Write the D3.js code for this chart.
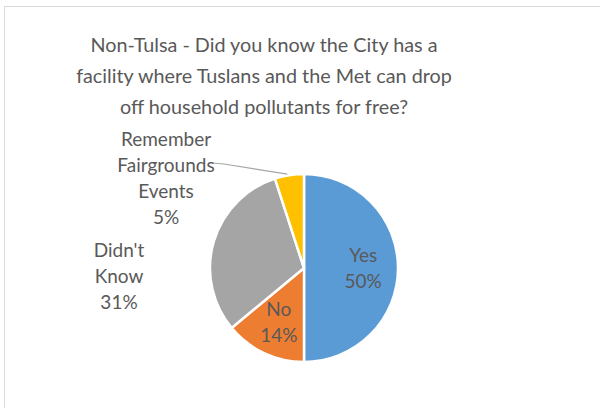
<!DOCTYPE html>
<html><head><meta charset="utf-8">
<script src="https://cdn.jsdelivr.net/npm/d3@7"></script>
<style>body{margin:0;background:#fff}svg{display:block}text{font-family:Lato,"Open Sans",sans-serif;fill:#595959}</style>
</head><body>
<svg id="c" width="600" height="408"></svg>
<script>
const titleLines = ["Non-Tulsa - Did you know the City has a","facility where Tuslans and the Met can drop","off household pollutants for free?"];
const categories = ["Yes","No","Didn't Know","Remember Fairgrounds Events"];
const values = [50,14,31,5];
const labelLines = [["Yes","50%"],["No","14%"],["Didn't","Know","31%"],["Remember","Fairgrounds","Events","5%"]];
const colors = ["#5B9BD5","#ED7D31","#A5A5A5","#FFC000"];

const svg = d3.select("#c");
svg.append("rect").attr("x",4.5).attr("y",6.5).attr("width",700).attr("height",600)
  .attr("fill","#fff").attr("stroke","#d9d9d9").attr("stroke-width",1);

const title = svg.append("text").attr("text-anchor","middle").attr("font-size",19.8);
titleLines.forEach((t,i)=>title.append("tspan").attr("x",264).attr("y",52+i*31).text(t));

const cx=304, cy=268, r=94;
const g = svg.append("g").attr("transform",`translate(${cx},${cy})`);
const pie = d3.pie().sort(null).value(d=>d);
const arcs = pie(values);
const arc = d3.arc().innerRadius(0).outerRadius(r);
g.selectAll("path").data(arcs).join("path")
  .attr("d",arc).attr("fill",(d,i)=>colors[i]).attr("stroke","#fff").attr("stroke-width",2.5).attr("stroke-linejoin","round");

// label anchor points (relative to pie center): inside labels via centroid, outside via Excel best-fit placement
const inner = d3.arc().innerRadius(r*0.63).outerRadius(r*0.63);
const outsidePos = {2:[-185,8],3:[-138,-90]};
const lh = 26;
arcs.forEach((a,i)=>{
  let [x,y] = outsidePos[i] || inner.centroid(a);
  const lines = labelLines[i];
  const t = g.append("text").attr("text-anchor","middle").attr("font-size",19);
  const y0 = y - (lines.length-1)*lh/2 + 7;
  lines.forEach((s,k)=>t.append("tspan").attr("x",x).attr("y",y0+k*lh).text(s));
});

// leader line for small slice
const a3 = arcs[3];
const edge = d3.arc().innerRadius(r).outerRadius(r).centroid(a3);
g.append("polyline")
  .attr("points",[[-91,-105],[-80,-104],[edge[0]-2,edge[1]-1]].map(p=>p.join(",")).join(" "))
  .attr("fill","none").attr("stroke","#a6a6a6").attr("stroke-width",1.2);
</script>
</body></html>
